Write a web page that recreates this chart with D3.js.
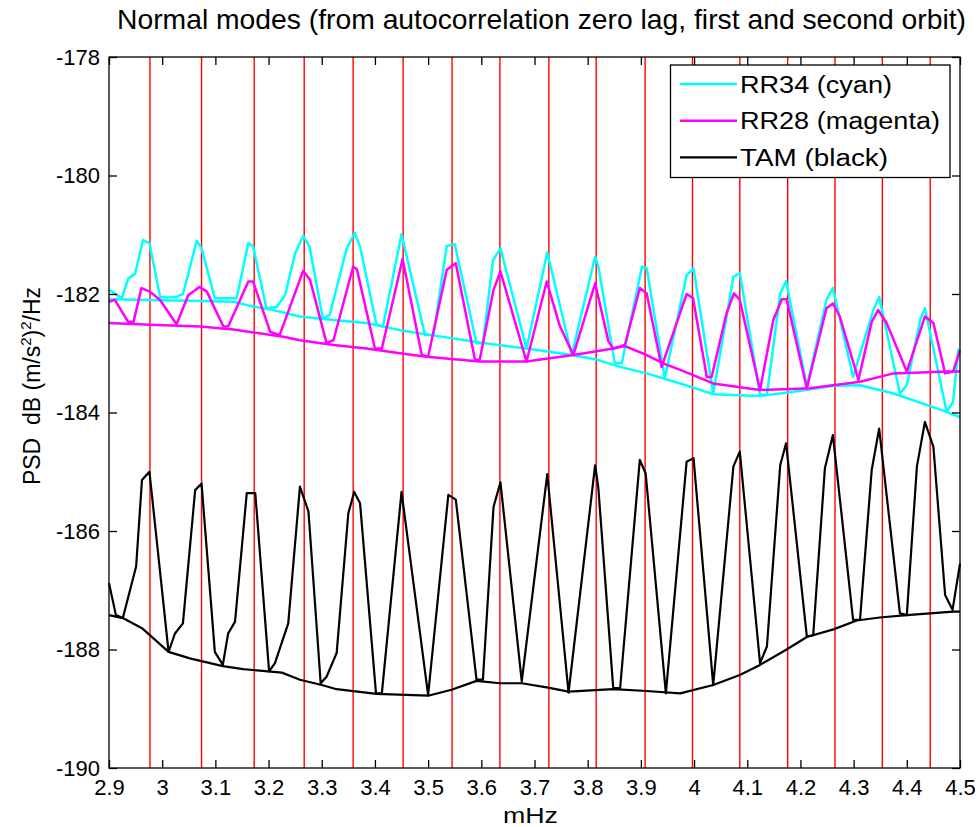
<!DOCTYPE html>
<html>
<head>
<meta charset="utf-8">
<script src="https://cdn.jsdelivr.net/npm/d3@7"></script>
<style>
  body { margin: 0; background: #fff; }
  text { font-family: "Liberation Sans", Arial, Helvetica, sans-serif; fill: #000; }
</style>
</head>
<body>
<svg id="chart" width="980" height="827"></svg>
<script>
// axis ticks
var xTicks = [2.9, 3.0, 3.1, 3.2, 3.3, 3.4, 3.5, 3.6, 3.7, 3.8, 3.9, 4.0, 4.1, 4.2, 4.3, 4.4, 4.5];
var yTicks = [-190, -188, -186, -184, -182, -180, -178];

// normal mode frequencies (red lines), mHz
var modeFreqs = [2.977, 3.074, 3.173, 3.267, 3.359, 3.453, 3.545, 3.635, 3.727, 3.816,
                 3.908, 3.997, 4.086, 4.176, 4.265, 4.354, 4.444];

// RR34 (cyan) - peaked curve
var rr34Freq = [2.900, 2.911, 2.924, 2.936, 2.949, 2.964, 2.976, 2.996, 3.008, 3.027, 3.039, 3.051,
  3.065, 3.074, 3.099, 3.140, 3.162, 3.171, 3.196, 3.215, 3.231, 3.250, 3.265, 3.277, 3.302, 3.315,
  3.347, 3.362, 3.372, 3.403, 3.415, 3.450, 3.494, 3.510, 3.535, 3.550, 3.591, 3.603, 3.622, 3.636,
  3.685, 3.724, 3.770, 3.814, 3.820, 3.851, 3.864, 3.902, 3.911, 3.945, 3.986, 3.999, 4.036, 4.074,
  4.086, 4.124, 4.137, 4.162, 4.173, 4.212, 4.249, 4.261, 4.299, 4.337, 4.348, 4.387, 4.400, 4.425,
  4.434, 4.475, 4.487, 4.497];
var rr34Db = [-181.93, -181.99, -182.07, -181.74, -181.66, -181.09, -181.14, -182.05, -182.06, -182.05,
  -182.00, -181.59, -181.10, -181.23, -182.07, -182.07, -181.14, -181.20, -182.24, -182.22, -182.02,
  -181.31, -181.02, -181.20, -182.41, -182.35, -181.23, -180.97, -181.20, -182.52, -182.55, -180.99,
  -182.69, -182.69, -181.19, -181.16, -182.83, -182.83, -181.43, -181.23, -182.92, -181.30, -183.03,
  -181.37, -181.53, -183.17, -183.17, -181.54, -181.57, -183.42, -181.68, -181.57, -183.68, -181.71,
  -181.65, -183.70, -183.70, -181.99, -181.78, -183.56, -182.10, -181.90, -183.40, -182.27, -182.05,
  -183.68, -183.54, -182.44, -182.24, -183.99, -183.82, -182.92];

// RR34 (cyan) - smooth curve
var rr34BaseFreq = [2.900, 3.071, 3.134, 3.165, 3.203, 3.259, 3.322, 3.384, 3.447, 3.503, 3.597, 3.685,
  3.770, 3.814, 3.861, 3.911, 3.974, 4.036, 4.124, 4.187, 4.262, 4.312, 4.375, 4.475, 4.500];
var rr34BaseDb = [-182.09, -182.12, -182.13, -182.20, -182.26, -182.38, -182.44, -182.49, -182.61,
  -182.69, -182.82, -182.92, -183.03, -183.10, -183.23, -183.34, -183.51, -183.69, -183.72, -183.65,
  -183.55, -183.54, -183.68, -183.99, -184.08];

// RR28 (magenta) - peaked curve
var rr28Freq = [2.900, 2.911, 2.936, 2.946, 2.961, 2.977, 2.996, 3.027, 3.049, 3.070, 3.084, 3.115,
  3.124, 3.162, 3.171, 3.203, 3.221, 3.265, 3.278, 3.309, 3.322, 3.359, 3.366, 3.400, 3.413, 3.452,
  3.488, 3.500, 3.535, 3.552, 3.588, 3.597, 3.623, 3.636, 3.685, 3.723, 3.748, 3.773, 3.814, 3.839,
  3.848, 3.870, 3.898, 3.911, 3.939, 3.986, 3.998, 4.024, 4.033, 4.061, 4.075, 4.086, 4.124, 4.149,
  4.165, 4.174, 4.212, 4.249, 4.261, 4.274, 4.309, 4.334, 4.346, 4.362, 4.400, 4.434, 4.450, 4.472,
  4.487, 4.500];
var rr28Db = [-182.13, -182.10, -182.47, -182.47, -181.90, -181.96, -182.10, -182.51, -182.02, -181.88,
  -181.96, -182.55, -182.55, -181.79, -181.79, -182.64, -182.69, -181.61, -181.76, -182.83, -182.78,
  -181.54, -181.58, -182.92, -182.92, -181.41, -183.03, -183.06, -181.59, -181.48, -183.11, -183.11,
  -181.93, -181.62, -183.14, -181.79, -182.55, -183.03, -181.82, -182.80, -182.92, -182.86, -181.90,
  -181.99, -183.23, -182.00, -182.07, -183.40, -183.40, -182.33, -181.99, -182.10, -183.62, -182.44,
  -182.09, -182.09, -183.59, -182.24, -182.16, -182.38, -183.45, -182.47, -182.27, -182.49, -183.31,
  -182.38, -182.49, -183.34, -183.31, -182.95];

// RR28 (magenta) - smooth curve
var rr28BaseFreq = [2.900, 2.977, 3.071, 3.134, 3.165, 3.228, 3.259, 3.322, 3.384, 3.447, 3.497, 3.597,
  3.685, 3.773, 3.814, 3.848, 3.870, 3.911, 3.942, 3.974, 4.036, 4.124, 4.218, 4.312, 4.375, 4.475, 4.500];
var rr28BaseDb = [-182.49, -182.52, -182.55, -182.60, -182.64, -182.72, -182.78, -182.86, -182.92,
  -183.00, -183.06, -183.14, -183.14, -183.03, -182.97, -182.92, -182.88, -183.03, -183.17, -183.28,
  -183.51, -183.62, -183.59, -183.48, -183.34, -183.31, -183.31];

// TAM (black) - peaked curve
var tamFreq = [2.900, 2.913, 2.926, 2.951, 2.962, 2.976, 3.012, 3.024, 3.039, 3.062, 3.074, 3.099,
  3.114, 3.124, 3.137, 3.159, 3.175, 3.201, 3.212, 3.237, 3.259, 3.275, 3.298, 3.309, 3.328, 3.350,
  3.361, 3.372, 3.402, 3.413, 3.450, 3.500, 3.538, 3.552, 3.591, 3.603, 3.623, 3.636, 3.676, 3.724,
  3.764, 3.814, 3.820, 3.848, 3.861, 3.898, 3.909, 3.947, 3.986, 3.999, 4.036, 4.074, 4.086, 4.124,
  4.137, 4.162, 4.173, 4.212, 4.224, 4.246, 4.261, 4.299, 4.312, 4.334, 4.348, 4.387, 4.400, 4.419,
  4.434, 4.450, 4.472, 4.486, 4.500];
var tamDb = [-186.88, -187.42, -187.47, -186.60, -185.14, -185.00, -188.04, -187.73, -187.56, -185.31,
  -185.20, -188.04, -188.26, -187.73, -187.53, -185.36, -185.36, -188.37, -188.23, -187.56, -185.25,
  -185.67, -188.57, -188.46, -188.06, -185.70, -185.34, -185.53, -188.74, -188.74, -185.34, -188.77,
  -185.39, -185.47, -188.51, -188.51, -185.59, -185.18, -188.54, -185.04, -188.73, -184.89, -185.27,
  -188.65, -188.65, -184.80, -185.03, -188.74, -184.83, -184.77, -188.60, -184.91, -184.66, -188.23,
  -187.95, -184.89, -184.52, -187.78, -187.76, -184.94, -184.38, -187.50, -187.50, -184.97, -184.27,
  -187.39, -187.42, -184.91, -184.16, -184.58, -187.08, -187.33, -186.55];

// TAM (black) - smooth curve
var tamBaseFreq = [2.900, 2.926, 2.962, 3.012, 3.052, 3.114, 3.152, 3.225, 3.259, 3.300, 3.328, 3.403,
  3.500, 3.544, 3.591, 3.635, 3.676, 3.723, 3.764, 3.848, 3.911, 3.974, 4.036, 4.086, 4.124, 4.174,
  4.212, 4.262, 4.306, 4.349, 4.400, 4.487, 4.500];
var tamBaseDb = [-187.42, -187.47, -187.64, -188.04, -188.15, -188.28, -188.33, -188.39, -188.51,
  -188.60, -188.67, -188.75, -188.78, -188.68, -188.53, -188.57, -188.57, -188.64, -188.71, -188.67,
  -188.70, -188.74, -188.60, -188.43, -188.26, -188.00, -187.79, -187.66, -187.51, -187.46, -187.42,
  -187.36, -187.36];

var legendNames = ["RR34 (cyan)", "RR28 (magenta)", "TAM (black)"];
var legendColors = ["#00ffff", "#ff00ff", "#000000"];

var margin = {top: 57, right: 20, bottom: 59, left: 109},
    width = 980, height = 827;

var svg = d3.select("#chart");

var x = d3.scaleLinear().domain([2.9, 4.5]).range([margin.left, width - margin.right]);
var y = d3.scaleLinear().domain([-190, -178]).range([height - margin.bottom, margin.top]);

function zipSeries(f, v) {
  return f.map(function (d, i) { return [d, v[i]]; });
}

var curves = [
  {pts: zipSeries(rr34BaseFreq, rr34BaseDb), color: legendColors[0], w: 2.5},
  {pts: zipSeries(rr34Freq, rr34Db), color: legendColors[0], w: 2.5},
  {pts: zipSeries(rr28BaseFreq, rr28BaseDb), color: legendColors[1], w: 2.5},
  {pts: zipSeries(rr28Freq, rr28Db), color: legendColors[1], w: 2.5},
  {pts: zipSeries(tamBaseFreq, tamBaseDb), color: legendColors[2], w: 2.2},
  {pts: zipSeries(tamFreq, tamDb), color: legendColors[2], w: 2.2}
];

// mode lines
svg.append("g").selectAll("line.mode")
  .data(modeFreqs)
  .enter().append("line")
  .attr("class", "mode")
  .attr("x1", function (d) { return x(d); })
  .attr("x2", function (d) { return x(d); })
  .attr("y1", y(-190))
  .attr("y2", y(-178))
  .style("stroke", "#ff0000")
  .style("stroke-width", 1.4);

var line = d3.line()
  .x(function (d) { return x(d[0]); })
  .y(function (d) { return y(d[1]); });

svg.append("g").selectAll("path.curve")
  .data(curves)
  .enter().append("path")
  .attr("class", "curve")
  .attr("d", function (d) { return line(d.pts); })
  .style("fill", "none")
  .style("stroke", function (d) { return d.color; })
  .style("stroke-width", function (d) { return d.w; })
  .style("stroke-linejoin", "round");

// axes, ticks pointing in
var fmtX = d3.format("~g");
var axB = svg.append("g").attr("transform", "translate(0," + y(-190) + ")")
  .call(d3.axisBottom(x).tickValues(xTicks).tickSizeInner(-8).tickSizeOuter(0).tickPadding(11)
        .tickFormat(function (d) { return fmtX(d); }));
var axT = svg.append("g").attr("transform", "translate(0," + y(-178) + ")")
  .call(d3.axisTop(x).tickValues(xTicks).tickSizeInner(-8).tickSizeOuter(0).tickFormat(""));
var axL = svg.append("g").attr("transform", "translate(" + x(2.9) + ",0)")
  .call(d3.axisLeft(y).tickValues(yTicks).tickSizeInner(-8).tickSizeOuter(0).tickPadding(9)
        .tickFormat(function (d) { return String(d); }));
var axR = svg.append("g").attr("transform", "translate(" + x(4.5) + ",0)")
  .call(d3.axisRight(y).tickValues(yTicks).tickSizeInner(-8).tickSizeOuter(0).tickFormat(""));

[axB, axT, axL, axR].forEach(function (g) {
  g.select(".domain").remove();
  g.selectAll(".tick line").style("stroke", "#000").style("stroke-width", 1.3);
  g.selectAll(".tick text").style("font-size", "22px").style("fill", "#000")
    .attr("font-family", null);
});

svg.append("rect")
  .attr("x", x(2.9)).attr("y", y(-178))
  .attr("width", x(4.5) - x(2.9)).attr("height", y(-190) - y(-178))
  .style("fill", "none").style("stroke", "#000").style("stroke-width", 1.3);

// title and labels
svg.append("text")
  .attr("x", 541.5).attr("y", 29)
  .attr("text-anchor", "middle")
  .attr("textLength", 849).attr("lengthAdjust", "spacingAndGlyphs")
  .style("font-size", "28px")
  .text("Normal modes (from autocorrelation zero lag, first and second orbit)");

svg.append("text")
  .attr("x", 530.5).attr("y", 823)
  .attr("text-anchor", "middle")
  .attr("textLength", 55).attr("lengthAdjust", "spacingAndGlyphs")
  .style("font-size", "22px")
  .text("mHz");

var yl = svg.append("text")
  .attr("transform", "translate(40,386) rotate(-90)")
  .attr("text-anchor", "middle")
  .style("font-size", "23px");
yl.append("tspan").text("PSD\u00a0\u00a0dB (m/s");
yl.append("tspan").attr("dy", -9).style("font-size", "15px").text("2");
yl.append("tspan").attr("dy", 9).text(")");
yl.append("tspan").attr("dy", -9).style("font-size", "15px").text("2");
yl.append("tspan").attr("dy", 9).text("/Hz");

// legend
var lg = svg.append("g");
lg.append("rect")
  .attr("x", 670.5).attr("y", 65).attr("width", 279.5).attr("height", 112.5)
  .style("fill", "#fff").style("stroke", "#000").style("stroke-width", 1.3);

var legendRowY = [84, 120.7, 157.3];
var legendTextLen = [152, 200, 148];
var rows = lg.selectAll("g.row")
  .data(legendNames)
  .enter().append("g")
  .attr("class", "row")
  .attr("transform", function (d, i) { return "translate(0," + legendRowY[i] + ")"; });

rows.append("line")
  .attr("x1", 680).attr("x2", 737).attr("y1", 0).attr("y2", 0)
  .style("stroke", function (d, i) { return legendColors[i]; })
  .style("stroke-width", function (d, i) { return i < 2 ? 2.5 : 2.2; });

rows.append("text")
  .attr("x", 740).attr("y", 8.5)
  .attr("textLength", function (d, i) { return legendTextLen[i]; })
  .attr("lengthAdjust", "spacingAndGlyphs")
  .style("font-size", "23px")
  .text(function (d) { return d; });
</script>
</body>
</html>
